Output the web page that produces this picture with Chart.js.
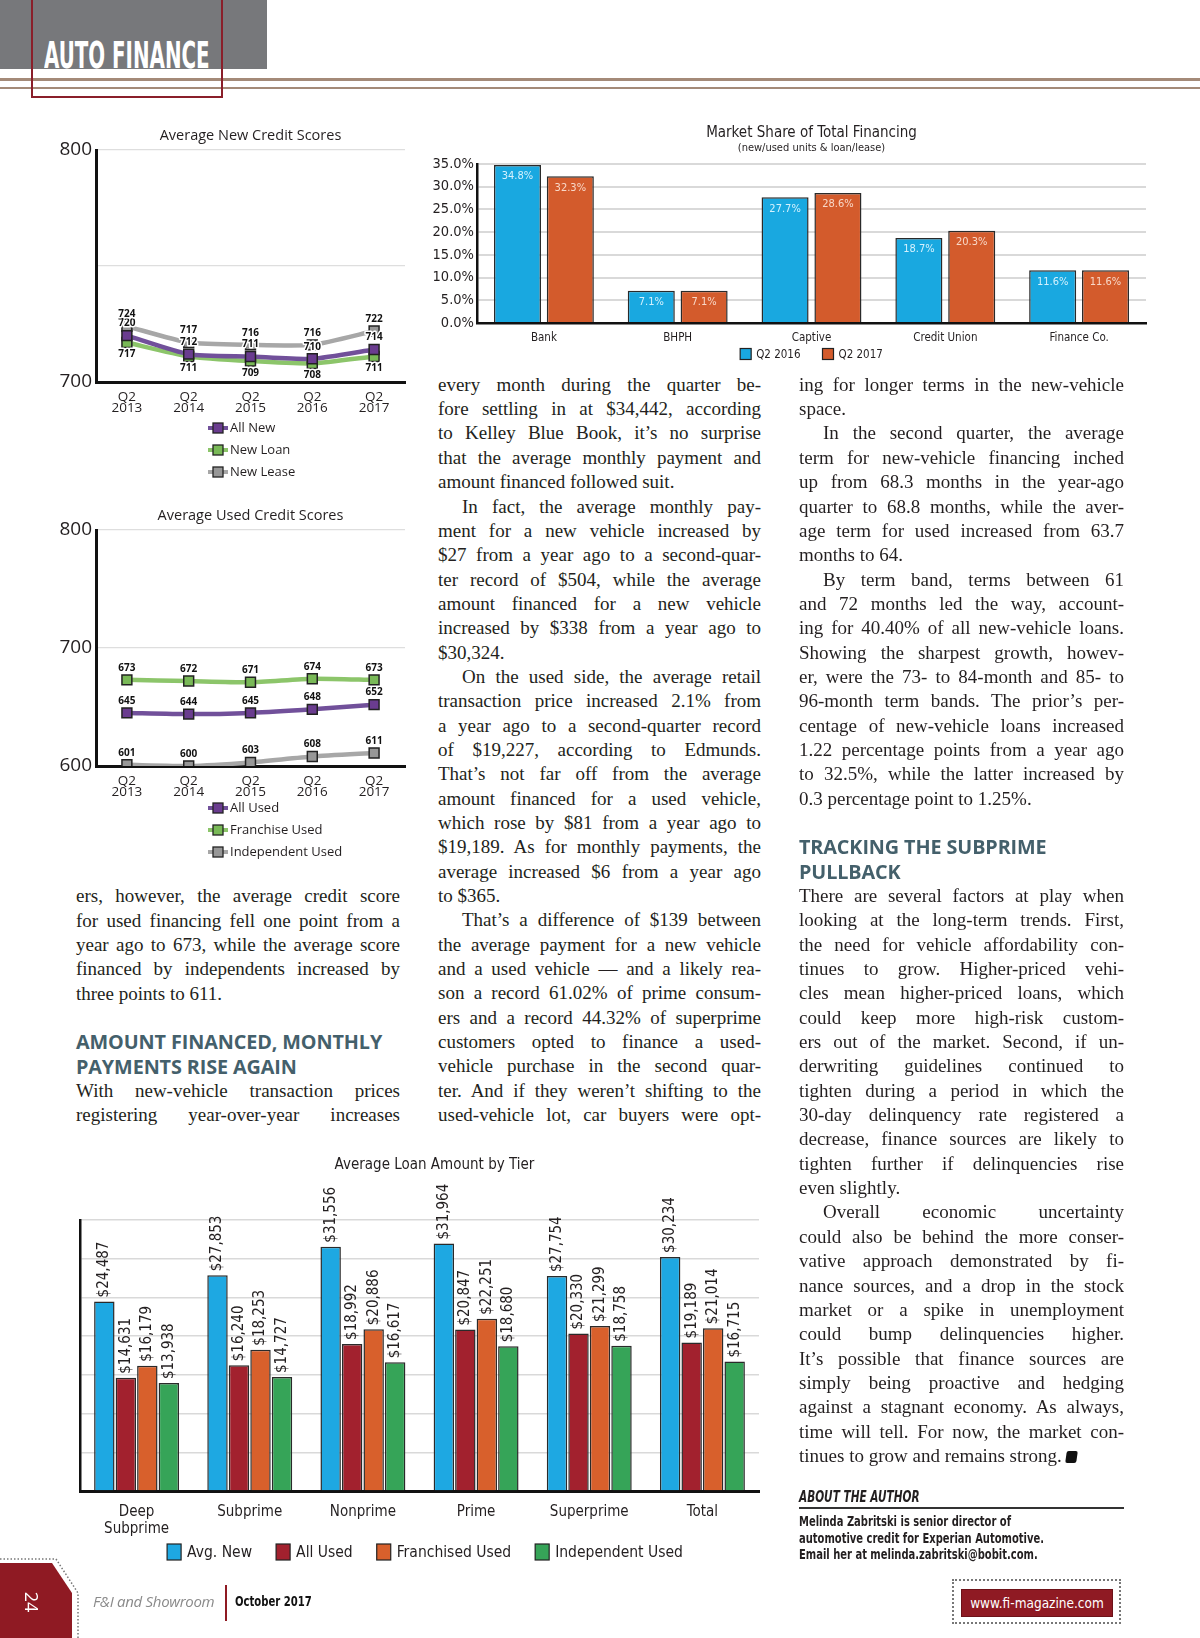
<!DOCTYPE html>
<html lang="en">
<head>
<meta charset="UTF-8">
<title>Auto Finance - F&amp;I and Showroom, October 2017</title>
<script src="https://cdn.jsdelivr.net/npm/chart.js@4.4.1/dist/chart.umd.min.js"></script>
<style>
  html, body { margin: 0; padding: 0; }
  body {
    width: 1200px; height: 1638px; position: relative; overflow: hidden;
    background: #fff; color: #231f20;
    font-family: 'Liberation Serif', 'DejaVu Serif', serif;
  }
  .abs { position: absolute; }
  canvas { position: absolute; }
  .sq { display: inline-block; transform-origin: left center; white-space: nowrap; }

  /* header */
  #band { left: 0; top: 0; width: 267px; height: 69px; background: #77787b; }
  #brand {
    left: 44px; top: 36px; color: #fff; font-size: 38px; line-height: 38px; font-weight: bold;
    font-family: 'DejaVu Sans Condensed', 'Liberation Sans Narrow', 'Liberation Sans', sans-serif;
    transform: scaleX(0.58); transform-origin: left top; white-space: nowrap;
  }
  #frame { left: 31px; top: -3px; width: 188px; height: 97px; border: 2px solid #8a1f2a; }
  .rule { left: 0; width: 1200px; background: #a48a78; }

  /* body text */
  .col { position: absolute; font-size: 19px; }
  .col div { height: 24.35px; line-height: 24.35px; white-space: nowrap; }
  .col .in { padding-left: 24px; }
  .col .h {
    font-family: 'Open Sans', 'Noto Sans', sans-serif; font-weight: 700; font-size: 19.8px;
    color: #44606b; letter-spacing: -0.1px;
  }
  .endmark { display: inline-block; width: 11px; height: 12px; background: #111; border-radius: 2px;
    transform: skewX(-8deg); vertical-align: -1px; margin-left: 4px; }

  .narrow { font-family: 'DejaVu Sans Condensed', 'Liberation Sans Narrow', 'Liberation Sans', sans-serif; }
  #aboutHead {
    left: 799px; top: 1488px; width: 325px; height: 19px; border-bottom: 2px solid #333;
    font-size: 15px; font-weight: bold; font-style: italic; line-height: 19px;
  }
  #aboutHead .sq { transform: scaleX(0.78); }
  #aboutText { left: 799px; top: 1513px; font-size: 13.5px; font-weight: bold; line-height: 16.5px; }
  #aboutText .sq { transform: scaleX(0.82); display: block; }

  /* footer */
  #tab { left: 0; top: 1563px; width: 72px; height: 75px; background: #8f1a23;
    clip-path: polygon(0 0, 52px 0, 72px 30px, 72px 100%, 0 100%); }
  #tabDots { left: 0; top: 1556px; width: 80px; height: 82px; }
  #pageNo { left: 22px; top: 1590px; color: #fff; font-family: 'Open Sans', sans-serif; font-size: 18px;
    transform: rotate(90deg); }
  #mag { left: 93px; top: 1591px; font-family: 'Open Sans', 'Noto Sans', sans-serif; font-style: italic;
    font-size: 15px; color: #8a8a8a; letter-spacing: -0.3px; }
  #sep { left: 225px; top: 1585px; width: 2px; height: 36px; background: #8f1a23; }
  #issue { left: 235px; top: 1593px; font-size: 14px; font-weight: bold; color: #111; }
  #issue .sq { transform: scaleX(0.8); }
  #webDots { left: 952px; top: 1579px; width: 169px; height: 45px; border: 2px dotted #777; box-sizing: border-box; }
  #web { left: 961px; top: 1589px; width: 152px; height: 28px; background: #8f1a23; color: #fff; font-size: 13.5px;
    line-height: 28px; text-align: center; box-shadow: inset 0 0 0 1px #6d1219; }
</style>
</head>
<body>

<div class="abs" id="band"></div>
<div class="abs" id="brand">AUTO FINANCE</div>
<div class="abs rule" style="top:78px;height:3px;"></div>
<div class="abs rule" style="top:87px;height:2px;"></div>
<div class="abs" id="frame"></div>

<canvas id="newScores" width="380" height="385" style="left:40px;top:115px;"></canvas>
<canvas id="usedScores" width="380" height="385" style="left:40px;top:495px;"></canvas>
<canvas id="marketShare" width="762" height="245" style="left:430px;top:118px;"></canvas>
<canvas id="loanTier" width="744" height="425" style="left:60px;top:1145px;"></canvas>

<!-- left column -->
<div class="col" style="left:76px;top:884.2px;width:324px;">
  <div class="j">ers, however, the average credit score</div>
  <div class="j">for used financing fell one point from a</div>
  <div class="j">year ago to 673, while the average score</div>
  <div class="j">financed by independents increased by</div>
  <div>three points to 611.</div>
  <div>&nbsp;</div>
  <div class="h">AMOUNT FINANCED, MONTHLY</div>
  <div class="h">PAYMENTS RISE AGAIN</div>
  <div class="j">With new-vehicle transaction prices</div>
  <div class="j">registering year-over-year increases</div>
</div>

<!-- middle column -->
<div class="col" style="left:438px;top:372.8px;width:323px;">
  <div class="j">every month during the quarter be-</div>
  <div class="j">fore settling in at $34,442, according</div>
  <div class="j">to Kelley Blue Book, it’s no surprise</div>
  <div class="j">that the average monthly payment and</div>
  <div>amount financed followed suit.</div>
  <div class="j in">In fact, the average monthly pay-</div>
  <div class="j">ment for a new vehicle increased by</div>
  <div class="j">$27 from a year ago to a second-quar-</div>
  <div class="j">ter record of $504, while the average</div>
  <div class="j">amount financed for a new vehicle</div>
  <div class="j">increased by $338 from a year ago to</div>
  <div>$30,324.</div>
  <div class="j in">On the used side, the average retail</div>
  <div class="j">transaction price increased 2.1% from</div>
  <div class="j">a year ago to a second-quarter record</div>
  <div class="j">of $19,227, according to Edmunds.</div>
  <div class="j">That’s not far off from the average</div>
  <div class="j">amount financed for a used vehicle,</div>
  <div class="j">which rose by $81 from a year ago to</div>
  <div class="j">$19,189. As for monthly payments, the</div>
  <div class="j">average increased $6 from a year ago</div>
  <div>to $365.</div>
  <div class="j in">That’s a difference of $139 between</div>
  <div class="j">the average payment for a new vehicle</div>
  <div class="j">and a used vehicle — and a likely rea-</div>
  <div class="j">son a record 61.02% of prime consum-</div>
  <div class="j">ers and a record 44.32% of superprime</div>
  <div class="j">customers opted to finance a used-</div>
  <div class="j">vehicle purchase in the second quar-</div>
  <div class="j">ter. And if they weren’t shifting to the</div>
  <div class="j">used-vehicle lot, car buyers were opt-</div>
</div>

<!-- right column -->
<div class="col" style="left:799px;top:372.8px;width:325px;">
  <div class="j">ing for longer terms in the new-vehicle</div>
  <div>space.</div>
  <div class="j in">In the second quarter, the average</div>
  <div class="j">term for new-vehicle financing inched</div>
  <div class="j">up from 68.3 months in the year-ago</div>
  <div class="j">quarter to 68.8 months, while the aver-</div>
  <div class="j">age term for used increased from 63.7</div>
  <div>months to 64.</div>
  <div class="j in">By term band, terms between 61</div>
  <div class="j">and 72 months led the way, account-</div>
  <div class="j">ing for 40.40% of all new-vehicle loans.</div>
  <div class="j">Showing the sharpest growth, howev-</div>
  <div class="j">er, were the 73- to 84-month and 85- to</div>
  <div class="j">96-month term bands. The prior’s per-</div>
  <div class="j">centage of new-vehicle loans increased</div>
  <div class="j">1.22 percentage points from a year ago</div>
  <div class="j">to 32.5%, while the latter increased by</div>
  <div>0.3 percentage point to 1.25%.</div>
  <div>&nbsp;</div>
  <div class="h">TRACKING THE SUBPRIME</div>
  <div class="h">PULLBACK</div>
  <div class="j">There are several factors at play when</div>
  <div class="j">looking at the long-term trends. First,</div>
  <div class="j">the need for vehicle affordability con-</div>
  <div class="j">tinues to grow. Higher-priced vehi-</div>
  <div class="j">cles mean higher-priced loans, which</div>
  <div class="j">could keep more high-risk custom-</div>
  <div class="j">ers out of the market. Second, if un-</div>
  <div class="j">derwriting guidelines continued to</div>
  <div class="j">tighten during a period in which the</div>
  <div class="j">30-day delinquency rate registered a</div>
  <div class="j">decrease, finance sources are likely to</div>
  <div class="j">tighten further if delinquencies rise</div>
  <div>even slightly.</div>
  <div class="j in">Overall economic uncertainty</div>
  <div class="j">could also be behind the more conser-</div>
  <div class="j">vative approach demonstrated by fi-</div>
  <div class="j">nance sources, and a drop in the stock</div>
  <div class="j">market or a spike in unemployment</div>
  <div class="j">could bump delinquencies higher.</div>
  <div class="j">It’s possible that finance sources are</div>
  <div class="j">simply being proactive and hedging</div>
  <div class="j">against a stagnant economy. As always,</div>
  <div class="j">time will tell. For now, the market con-</div>
  <div>tinues to grow and remains strong.<span class="endmark"></span></div>
</div>

<div class="abs narrow" id="aboutHead"><span class="sq">ABOUT THE AUTHOR</span></div>
<div class="abs narrow" id="aboutText"><span class="sq">Melinda Zabritski is senior director of</span><span class="sq">automotive credit for Experian Automotive.</span><span class="sq">Email her at melinda.zabritski@bobit.com.</span></div>

<!-- footer -->
<svg class="abs" id="tabDots" viewBox="0 0 80 82">
  <polyline points="0,3 56,3 78,37 78,82" fill="none" stroke="#777" stroke-width="1.5" stroke-dasharray="1.5 2"/>
</svg>
<div class="abs" id="tab"></div>
<div class="abs" id="pageNo">24</div>
<div class="abs" id="mag">F&amp;I and Showroom</div>
<div class="abs" id="sep"></div>
<div class="abs narrow" id="issue"><span class="sq">October 2017</span></div>
<div class="abs" id="webDots"></div>
<div class="abs narrow" id="web">www.fi-magazine.com</div>

<script>
// ---- data ----
const quarters = [['Q2', '2013'], ['Q2', '2014'], ['Q2', '2015'], ['Q2', '2016'], ['Q2', '2017']];
const allNew = [720, 712, 711, 710, 714];
const newLoan = [717, 711, 709, 708, 711];
const newLease = [724, 717, 716, 716, 722];
const allUsed = [645, 644, 645, 648, 652];
const franchiseUsed = [673, 672, 671, 674, 673];
const independentUsed = [601, 600, 603, 608, 611];

const lenders = ['Bank', 'BHPH', 'Captive', 'Credit Union', 'Finance Co.'];
const shareQ2016 = [34.8, 7.1, 27.7, 18.7, 11.6];
const shareQ2017 = [32.3, 7.1, 28.6, 20.3, 11.6];

const tiers = [['Deep', 'Subprime'], 'Subprime', 'Nonprime', 'Prime', 'Superprime', 'Total'];
const loanAvgNew = [24487, 27853, 31556, 31964, 27754, 30234];
const loanAllUsed = [14631, 16240, 18992, 20847, 20330, 19189];
const loanFranchisedUsed = [16179, 18253, 20886, 22251, 21299, 21014];
const loanIndependentUsed = [13938, 14727, 16617, 18680, 18758, 16715];

const SANS = "'Open Sans', 'Noto Sans', sans-serif";
const NARROW = "'DejaVu Sans Condensed', 'Liberation Sans Narrow', 'Liberation Sans', sans-serif";
const INK = '#231f20';

// titles, value labels and legends drawn on the canvas
const deco = {
  id: 'deco',
  afterDatasetsDraw(chart, args, o) {
    const v = o.values;
    if (!v) return;
    const ctx = chart.ctx;
    ctx.save();
    ctx.font = v.font;
    ctx.lineJoin = 'round';
    chart.data.datasets.forEach((ds, i) => {
      chart.getDatasetMeta(i).data.forEach((el, j) => {
        const txt = v.format(ds.data[j]);
        ctx.fillStyle = ds.valueColor || v.color;
        if (v.mode === 'above') {
          const below = ds.valuePos === 'below';
          const y = below ? el.y + v.offset : el.y - v.offset;
          ctx.textAlign = 'center'; ctx.textBaseline = below ? 'top' : 'bottom';
          if (v.halo) { ctx.strokeStyle = '#fff'; ctx.lineWidth = 3; ctx.strokeText(txt, el.x, y); }
          ctx.fillText(txt, el.x, y);
        } else if (v.mode === 'inside') {
          ctx.textAlign = 'center'; ctx.textBaseline = 'top';
          ctx.fillText(txt, el.x, el.y + v.offset);
        } else {
          ctx.save();
          ctx.translate(el.x, el.y - v.offset);
          ctx.rotate(-Math.PI / 2);
          ctx.textAlign = 'left'; ctx.textBaseline = 'middle';
          ctx.fillText(txt, 0, 0);
          ctx.restore();
        }
      });
    });
    ctx.restore();
  },
  afterDraw(chart, args, o) {
    const ctx = chart.ctx, a = chart.chartArea;
    const cx = (a.left + a.right) / 2;
    ctx.save();
    ctx.fillStyle = INK;
    ctx.textAlign = 'center'; ctx.textBaseline = 'middle';
    (o.titles || []).forEach(t => {
      ctx.font = t.font;
      ctx.fillText(t.text, cx + (t.dx || 0), t.y);
    });
    const lg = o.legend;
    if (lg && lg.type === 'stack') {
      chart.data.datasets.forEach((ds, i) => {
        const y = lg.y + i * lg.gap;
        ctx.strokeStyle = ds.borderColor; ctx.lineWidth = 4;
        ctx.beginPath(); ctx.moveTo(lg.x, y); ctx.lineTo(lg.x + 20, y); ctx.stroke();
        ctx.fillStyle = ds.pointBackgroundColor; ctx.strokeStyle = '#222'; ctx.lineWidth = 1.3;
        ctx.fillRect(lg.x + 5, y - 5, 10, 10); ctx.strokeRect(lg.x + 5, y - 5, 10, 10);
        ctx.fillStyle = INK; ctx.font = lg.font; ctx.textAlign = 'left';
        ctx.fillText(ds.label, lg.x + 22, y + 0.5);
      });
    } else if (lg && lg.type === 'row') {
      ctx.font = lg.font;
      const widths = chart.data.datasets.map(ds => lg.bw + lg.tg + ctx.measureText(ds.label).width);
      const total = widths.reduce((s, w) => s + w, 0) + lg.gap * (widths.length - 1);
      let x = (lg.cx !== undefined ? lg.cx : cx) - total / 2;
      chart.data.datasets.forEach((ds, i) => {
        ctx.fillStyle = ds.backgroundColor; ctx.strokeStyle = '#222'; ctx.lineWidth = 1.2;
        ctx.fillRect(x, lg.y - lg.bh / 2, lg.bw, lg.bh); ctx.strokeRect(x, lg.y - lg.bh / 2, lg.bw, lg.bh);
        ctx.fillStyle = INK; ctx.textAlign = 'left';
        ctx.fillText(ds.label, x + lg.bw + lg.tg, lg.y + 1);
        x += widths[i] + lg.gap;
      });
    }
    ctx.restore();
  }
};

const purple = { line: '#71509a', mark: '#6a3c8f' };
const green = { line: '#8cc56a', mark: '#79b957' };
const grey = { line: '#a7a7a7', mark: '#979797' };

function scoreSet(label, data, c, valuePos) {
  return {
    label, data, valuePos,
    borderColor: c.line, borderWidth: 4.5, tension: 0.2,
    pointStyle: 'rect', pointRadius: 7, pointBackgroundColor: c.mark,
    pointBorderColor: '#222', pointBorderWidth: 1.5
  };
}

function scoreChart(id, datasets, title, min, max, step, hide, halo, padBottom) {
  new Chart(document.getElementById(id), {
    type: 'line',
    data: { labels: quarters, datasets },
    plugins: [deco],
    options: {
      responsive: false, animation: false,
      layout: { padding: { top: 35, right: 15, bottom: padBottom, left: 0 } },
      plugins: {
        legend: { display: false }, tooltip: { enabled: false },
        deco: {
          titles: [{ text: title, y: 21, font: '14.5px ' + SANS }],
          values: { mode: 'above', offset: 7, font: 'bold 10px ' + SANS, color: '#111', halo, format: v => v },
          legend: { type: 'stack', x: 168, y: 313, gap: 22, font: '13px ' + SANS }
        }
      },
      scales: {
        x: {
          offset: true,
          grid: { display: false },
          border: { color: '#111', width: 3 },
          ticks: { color: INK, font: { family: SANS, size: 13.5, lineHeight: 0.85 }, padding: 1 },
          afterFit: s => { s.height = 50; }
        },
        y: {
          min, max,
          grid: { color: '#dedede', lineWidth: 1.3, drawTicks: false },
          border: { color: '#111', width: 3 },
          ticks: { stepSize: step, color: INK, padding: 4, font: { family: SANS, size: 19 },
                   callback: v => (hide.includes(v) ? '' : v) },
          afterFit: s => { s.width = 56; }
        }
      }
    }
  });
}

scoreChart('newScores', [
  scoreSet('All New', allNew, purple),
  scoreSet('New Loan', newLoan, green, 'below'),
  scoreSet('New Lease', newLease, grey)
], 'Average New Credit Scores', 700, 800, 50, [750], true, 68);

scoreChart('usedScores', [
  scoreSet('All Used', allUsed, purple),
  scoreSet('Franchise Used', franchiseUsed, green),
  scoreSet('Independent Used', independentUsed, grey)
], 'Average Used Credit Scores', 600, 800, 100, [], false, 64);

// market share
new Chart(document.getElementById('marketShare'), {
  type: 'bar',
  data: {
    labels: lenders,
    datasets: [
      { label: 'Q2 2016', data: shareQ2016, backgroundColor: '#19a8e0', borderColor: '#2a2a2a', borderWidth: 1.5, valueColor: '#d4f1fd' },
      { label: 'Q2 2017', data: shareQ2017, backgroundColor: '#d35b2c', borderColor: '#2a2a2a', borderWidth: 1.5, valueColor: '#f8d8c8' }
    ]
  },
  plugins: [deco],
  options: {
    responsive: false, animation: false,
    categoryPercentage: 0.79, barPercentage: 0.89,
    layout: { padding: { top: 46, right: 46, bottom: 10, left: 0 } },
    plugins: {
      legend: { display: false }, tooltip: { enabled: false },
      deco: {
        titles: [
          { text: 'Market Share of Total Financing', y: 15, font: '15px ' + NARROW },
          { text: '(new/used units & loan/lease)', y: 30, font: '11px ' + NARROW }
        ],
        values: { mode: 'inside', offset: 6, font: '11px ' + NARROW, format: v => v.toFixed(1) + '%' },
        legend: { type: 'row', y: 236, bw: 11, bh: 11, tg: 5, gap: 22, font: '11.5px ' + NARROW }
      }
    },
    scales: {
      x: {
        grid: { display: false },
        border: { color: '#111', width: 2.5 },
        ticks: { color: INK, padding: 0, font: { family: NARROW, size: 11.5 } },
        afterFit: s => { s.height = 30; }
      },
      y: {
        min: 0, max: 35,
        grid: { color: '#d9d9d9', lineWidth: 2, drawTicks: false },
        border: { color: '#111', width: 2.5 },
        ticks: { stepSize: 5, color: INK, padding: 3, font: { family: NARROW, size: 14.5 },
                 callback: v => v.toFixed(1) + '%' },
        afterFit: s => { s.width = 47; }
      }
    }
  }
});

// loan amount by tier
const tierBar = (label, data, color) => ({ label, data, backgroundColor: color, borderColor: '#2a2a2a', borderWidth: 1.5 });
new Chart(document.getElementById('loanTier'), {
  type: 'bar',
  data: {
    labels: tiers,
    datasets: [
      tierBar('Avg. New', loanAvgNew, '#1ea8e2'),
      tierBar('All Used', loanAllUsed, '#a2212e'),
      tierBar('Franchised Used', loanFranchisedUsed, '#d8602c'),
      tierBar('Independent Used', loanIndependentUsed, '#36a458')
    ]
  },
  plugins: [deco],
  options: {
    responsive: false, animation: false,
    categoryPercentage: 0.76, barPercentage: 0.95,
    layout: { padding: { top: 75, right: 45, bottom: 19, left: 20 } },
    plugins: {
      legend: { display: false }, tooltip: { enabled: false },
      deco: {
        titles: [{ text: 'Average Loan Amount by Tier', y: 20, dx: 15, font: '15px ' + NARROW }],
        values: { mode: 'vertical', offset: 4, font: '15px ' + NARROW, color: INK,
                  format: v => '$' + v.toLocaleString('en-US') },
        legend: { type: 'row', y: 407, cx: 365, bw: 14, bh: 16, tg: 6, gap: 24, font: '15.5px ' + NARROW }
      }
    },
    scales: {
      x: {
        grid: { display: false },
        border: { color: '#111', width: 3 },
        ticks: { color: INK, padding: 5, font: { family: NARROW, size: 15, lineHeight: 1.1 } },
        afterFit: s => { s.height = 60; }
      },
      y: {
        min: 0, max: 35000,
        grid: { color: '#d9d9d9', lineWidth: 1.5, drawTicks: false },
        border: { color: '#111', width: 2.5 },
        ticks: { display: false, stepSize: 5000 },
        afterFit: s => { s.width = 0; }
      }
    }
  }
});

// justify each typeset line to its column width
function justifyLines() {
  document.querySelectorAll('.col').forEach(col => {
    const full = col.clientWidth;
    col.querySelectorAll('.j').forEach(ln => {
      ln.style.wordSpacing = '0px';
      let span = ln.querySelector('span.m');
      if (!span) {
        span = document.createElement('span');
        span.className = 'm';
        while (ln.firstChild) span.appendChild(ln.firstChild);
        ln.appendChild(span);
      }
      const indent = parseFloat(getComputedStyle(ln).paddingLeft) || 0;
      const natural = span.getBoundingClientRect().width;
      const spaces = (span.textContent.match(/ /g) || []).length;
      if (spaces) ln.style.wordSpacing = ((full - indent - natural) / spaces) + 'px';
    });
  });
}
justifyLines();
if (document.fonts) document.fonts.ready.then(justifyLines);
</script>
</body>
</html>
